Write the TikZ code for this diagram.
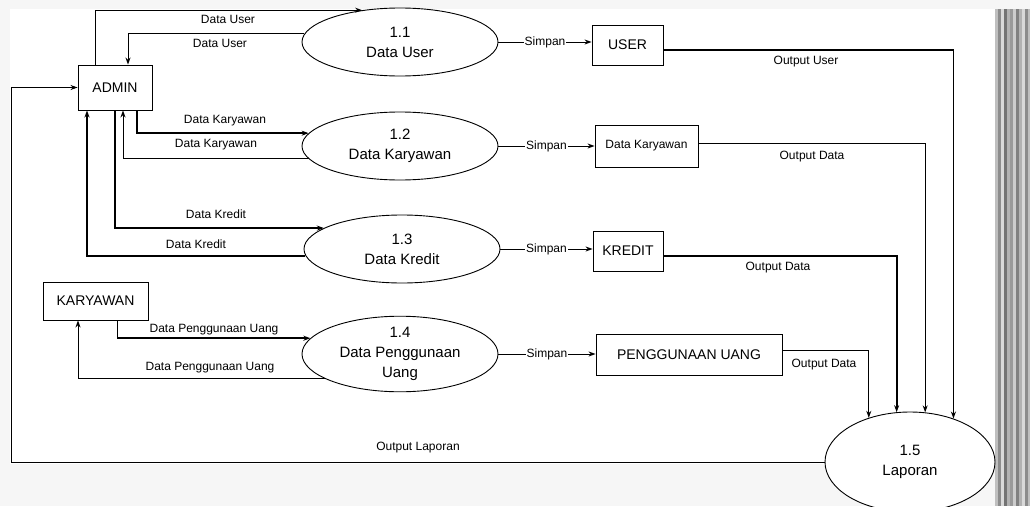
\documentclass[tikz,border=0pt]{standalone}
\usepackage{fontspec}
\setmainfont{Liberation Sans}
\usetikzlibrary{shapes.geometric,arrows.meta,calc}
\begin{document}
\begin{tikzpicture}[x=1pt,y=-1pt,
 proc/.style={draw, ellipse, line width=0.9pt, minimum width=196pt, minimum height=68pt, inner sep=0pt, align=center, font=\fontsize{15}{20}\selectfont, fill=white},
 box/.style={draw, rectangle, line width=0.9pt, inner sep=0pt, font=\fontsize{14}{16}\selectfont, fill=white},
 lbl/.style={font=\fontsize{12}{14}\selectfont, inner sep=1pt},
 flow/.style={-{Stealth[length=7pt,width=5pt]}, line width=0.9pt},
 heavy/.style={line width=1.8pt}]
\useasboundingbox (0,0) rectangle (1030,506);
\fill[gray!7] (0,0) rectangle (1030,506);
\fill[white] (10,9) rectangle (995,464);
% right stripes
\foreach \x/\g in {995/25,998/45,1001/15,1004/55,1007/30,1010/40,1013/20,1016/50,1019/30,1022/15,1025/45,1028/25}
  \fill[black!\g] (\x,9) rectangle ++(3,497);

% processes
\node[proc] (e11) at (400,42) {1.1\\Data User};
\node[proc] (e12) at (400,146) {1.2\\Data Karyawan};
\node[proc] (e13) at (402,249) {1.3\\Data Kredit};
\node[proc] (e14) at (400,354) {1.4\\Data Penggunaan\\Uang};
\node[proc, minimum width=170pt, minimum height=100pt] (e15) at (910,462) {1.5\\Laporan};

% entities
\node[box, minimum width=74pt, minimum height=45pt] (admin) at (115,87.5) {ADMIN};
\node[box, minimum width=105pt, minimum height=38pt] (kary) at (95.5,301) {KARYAWAN};

% data stores
\node[box, minimum width=71pt, minimum height=40pt] (user) at (627.5,45) {USER};
\node[box, minimum width=103pt, minimum height=42pt, font=\fontsize{12}{14}\selectfont] (s2) at (646.5,146) {Data Karyawan};
\node[box, minimum width=70pt, minimum height=40pt] (kredit) at (628,251) {KREDIT};
\node[box, minimum width=186pt, minimum height=41pt] (s4) at (689,355) {PENGGUNAAN UANG};

% ADMIN <-> 1.1
\draw[flow] ($(admin.north)+(-20,0)$) |- (e11.140);
\draw[flow] (e11.175) -| ($(admin.north)+(13,0)$);
\node[lbl] (l11a) at (228,19) {Data User};
\node[lbl] (l11b) at (220,43) {Data User};

% ADMIN <-> 1.2
\draw[flow, heavy] ($(admin.south)+(22,0)$) |- (e12.172);
\draw[flow] (e12.188) -| ($(admin.south)+(8,0)$);
\node[lbl] (l12a) at (225,121) {Data Karyawan};
\node[lbl] (l12b) at (216,145) {Data Karyawan};

% ADMIN <-> 1.3
\draw[flow, heavy] (admin.south) |- (e13.165);
\draw[flow, heavy] (e13.184) -| ($(admin.south)+(-28,0)$);
\node[lbl] (l13a) at (216,214) {Data Kredit};
\node[lbl] (l13b) at (196,244) {Data Kredit};

% KARYAWAN <-> 1.4
\draw[flow, heavy] ($(kary.south)+(22,0)$) |- (e14.170);
\draw[flow] (e14.198) -| ($(kary.south)+(-17.5,0)$);
\node[lbl] (l14a) at (214,330) {Data Penggunaan Uang};
\node[lbl] (l14b) at (210,368) {Data Penggunaan Uang};

% Simpan
\draw[flow] (e11.east) -- (e11.east -| user.west) node[midway, lbl, fill=white] (sp1) {Simpan};
\draw[flow] (e12.east) -- (e12.east -| s2.west) node[midway, lbl, fill=white] (sp2) {Simpan};
\draw[flow] (e13.east) -- (e13.east -| kredit.west) node[midway, lbl, fill=white] (sp3) {Simpan};
\draw[flow] (e14.east) -- (e14.east -| s4.west) node[midway, lbl, fill=white] (sp4) {Simpan};

% stores -> 1.5
\draw[flow, heavy] ($(user.east)+(0,5)$) -| (e15.45);
\draw[flow] ($(s2.east)+(0,-3)$) -| (e15.73);
\draw[flow, heavy] ($(kredit.east)+(0,5)$) -| (e15.105);
\draw[flow] ($(s4.east)+(0,-5)$) -| (e15.133);
\node[lbl] (o1) at (806,62) {Output User};
\node[lbl] (o2) at (812,157) {Output Data};
\node[lbl] (o3) at (778,268) {Output Data};
\node[lbl] (o4) at (824,365) {Output Data};

% 1.5 -> ADMIN
\draw[flow] (e15.west) -| ($(admin.west)+(-66,0)$) -- (admin.west);
\node[lbl] (o5) at (418,448) {Output Laporan};
\end{tikzpicture}
\end{document}
